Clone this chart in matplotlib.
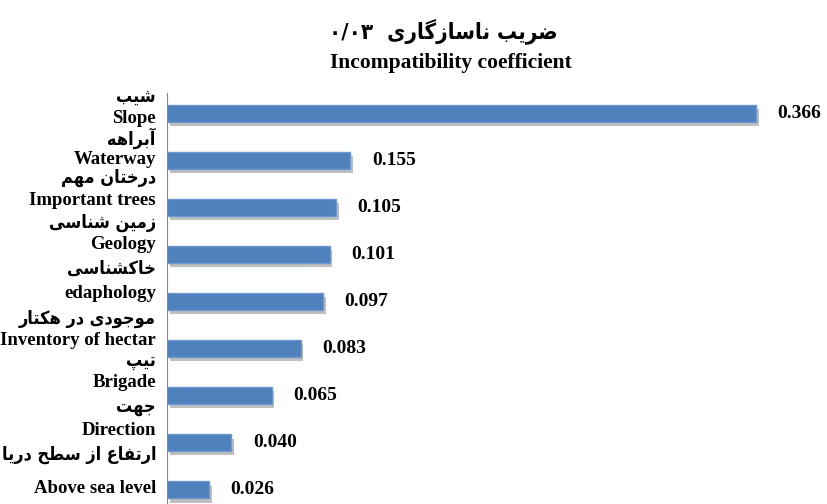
import numpy as np
import matplotlib
matplotlib.use('Agg')
import matplotlib.pyplot as plt
import matplotlib.patheffects as pe

# ---- data ----
title_fa = 'ضریب ناسازگاری'
title_num = '۰/۰۳'
subtitle = 'Incompatibility coefficient'

names_fa = ['شیب', 'آبراهه', 'درختان مهم', 'زمین شناسی', 'خاکشناسی',
            'موجودی در هکتار', 'تیپ', 'جهت', 'ارتفاع از سطح دریا']
names_en = ['Slope', 'Waterway', 'Important trees', 'Geology', 'edaphology',
            'Inventory of hectar', 'Brigade', 'Direction', 'Above sea level']
# bar lengths as drawn (the Waterway bar is drawn shorter than its label says)
bar_values = [0.366, 0.114, 0.105, 0.101, 0.097, 0.083, 0.065, 0.040, 0.026]
value_labels = ['0.366', '0.155', '0.105', '0.101', '0.097', '0.083', '0.065', '0.040', '0.026']

# ---- minimal persian shaping (matplotlib has no RTL/joining) ----
FORMS = {
    '\u0627': (0xFE8D, 0xFE8E), '\u0622': (0xFE81, 0xFE82),
    '\u062F': (0xFEA9, 0xFEAA), '\u0631': (0xFEAD, 0xFEAE),
    '\u0632': (0xFEAF, 0xFEB0), '\u0648': (0xFEED, 0xFEEE),
    '\u0628': (0xFE8F, 0xFE90, 0xFE91, 0xFE92),
    '\u062A': (0xFE95, 0xFE96, 0xFE97, 0xFE98),
    '\u062C': (0xFE9D, 0xFE9E, 0xFE9F, 0xFEA0),
    '\u062D': (0xFEA1, 0xFEA2, 0xFEA3, 0xFEA4),
    '\u062E': (0xFEA5, 0xFEA6, 0xFEA7, 0xFEA8),
    '\u0633': (0xFEB1, 0xFEB2, 0xFEB3, 0xFEB4),
    '\u0634': (0xFEB5, 0xFEB6, 0xFEB7, 0xFEB8),
    '\u0636': (0xFEBD, 0xFEBE, 0xFEBF, 0xFEC0),
    '\u0637': (0xFEC1, 0xFEC2, 0xFEC3, 0xFEC4),
    '\u0639': (0xFEC9, 0xFECA, 0xFECB, 0xFECC),
    '\u0641': (0xFED1, 0xFED2, 0xFED3, 0xFED4),
    '\u0645': (0xFEE1, 0xFEE2, 0xFEE3, 0xFEE4),
    '\u0646': (0xFEE5, 0xFEE6, 0xFEE7, 0xFEE8),
    '\u0647': (0xFEE9, 0xFEEA, 0xFEEB, 0xFEEC),
    '\u067E': (0xFB56, 0xFB57, 0xFB58, 0xFB59),
    '\u06A9': (0xFB8E, 0xFB8F, 0xFB90, 0xFB91),
    '\u06AF': (0xFB92, 0xFB93, 0xFB94, 0xFB95),
    '\u06CC': (0xFBFC, 0xFBFD, 0xFBFE, 0xFBFF),
}


def shape(s):
    s = s.replace('\u064A', '\u06CC').replace('\u0643', '\u06A9')
    out = []
    for i, c in enumerate(s):
        f = FORMS.get(c)
        if f is None:
            out.append(c)
            continue
        prev = s[i - 1] if i > 0 else ''
        nxt = s[i + 1] if i + 1 < len(s) else ''
        j_prev = prev in FORMS and len(FORMS[prev]) == 4
        j_next = len(f) == 4 and nxt in FORMS
        if j_prev and j_next:
            k = 3
        elif j_prev:
            k = 1
        elif j_next:
            k = 2
        else:
            k = 0
        out.append(chr(f[k]))
    return ''.join(out[::-1])


FA = dict(family=['DejaVu Sans'], fontweight='bold', fontstretch='condensed')
EN = dict(family=['Liberation Serif'], fontweight='bold')

fig = plt.figure(figsize=(8.27, 5.04), dpi=100)
ax = fig.add_axes([167 / 827, 0, 650 / 827, 411 / 504])

n = len(bar_values)
y = np.arange(n)
bars = ax.barh(y, bar_values, height=0.36, color='#4F81BD', edgecolor='#6C9AD0', linewidth=1)
for b in bars:
    b.set_path_effects([pe.SimplePatchShadow(offset=(2, -3), shadow_rgbFace='#8c8c8c', alpha=0.55),
                        pe.Normal()])

ax.set_xlim(0, 650 / 1609)
ax.set_ylim(8.30, -0.436)

for sp in ['top', 'right', 'bottom']:
    ax.spines[sp].set_visible(False)
ax.spines['left'].set_color('#8a8a8a')
ax.set_xticks([])
ax.set_yticks([])

# value labels
for i, (v, t) in enumerate(zip(bar_values, value_labels)):
    ax.annotate(t, (v, i), xytext=(15.5, 0), textcoords='offset points',
                ha='left', va='center', fontsize=14, **EN)

# category labels (persian line above english line)
pitch = 47.06
fa_dy = [-17, -22, -30, -32, -33, -30, -35, -36, -35]
en_dy = [5, -1, -7, -10, -8, -8, -13, -12, -1]
xl = -11 / 1609
for i in range(n):
    ax.text(xl, i + fa_dy[i] / pitch, shape(names_fa[i]), ha='right', va='center',
            fontsize=13, clip_on=False, **FA)
    ax.text(xl, i + en_dy[i] / pitch, names_en[i], ha='right', va='center',
            fontsize=13.5, clip_on=False, **EN)

fig.text(443 / 827, 1 - 31 / 504, title_num + '  ' + shape(title_fa),
         ha='center', va='center', fontsize=16, **FA)
fig.text(451 / 827, 1 - 63 / 504, subtitle, ha='center', va='center', fontsize=15.5, **EN)

fig.savefig('out.png', dpi=100, facecolor='white')
